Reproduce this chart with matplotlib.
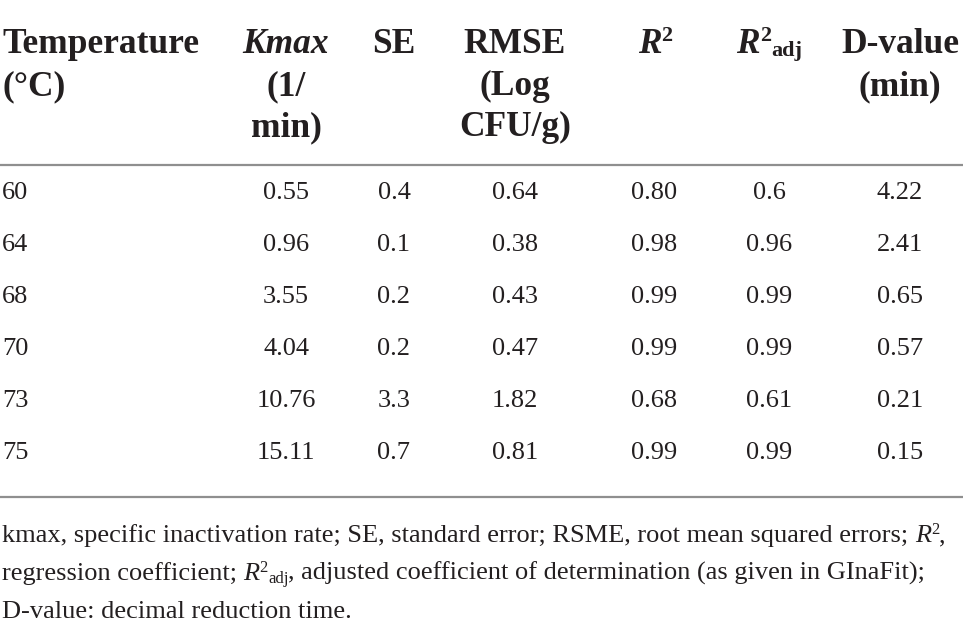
import matplotlib
matplotlib.use("Agg")
import matplotlib.pyplot as plt

# table data
temps = ["60", "64", "68", "70", "73", "75"]
kmax = ["0.55", "0.96", "3.55", "4.04", "10.76", "15.11"]
se = ["0.4", "0.1", "0.2", "0.2", "3.3", "0.7"]
rmse = ["0.64", "0.38", "0.43", "0.47", "1.82", "0.81"]
r2 = ["0.80", "0.98", "0.99", "0.99", "0.68", "0.99"]
r2adj = ["0.6", "0.96", "0.99", "0.99", "0.61", "0.99"]
dval = ["4.22", "2.41", "0.65", "0.57", "0.21", "0.15"]

FONT = "Liberation Serif"
W, H = 963, 632

fig = plt.figure(figsize=(W / 100, H / 100), dpi=100)
ax = fig.add_axes([0, 0, 1, 1])
ax.set_xlim(0, W)
ax.set_ylim(H, 0)
ax.axis("off")
renderer = fig.canvas.get_renderer()


def seq(x, y, pieces, align="left"):
    # pieces: (text, size, weight, style, dy)
    items = []
    total = 0
    for s, size, weight, style, dy in pieces:
        t = ax.text(0, y + dy, s, fontsize=size, fontweight=weight, fontstyle=style,
                    family=FONT, va="baseline", ha="left", color="#231f20")
        w = t.get_window_extent(renderer).width
        items.append((t, w))
        total += w
    if align == "center":
        x = x - total / 2
    for t, w in items:
        t.set_x(x)
        x += w
    return x


hsz = 25.5
ssz_h = 16
# header
hy = [53, 95, 136]
for i, s in enumerate(["Temperature", "(°C)"]):
    seq(2, hy[i], [(s, hsz, "bold", "normal", 0)])
seq(286, hy[0], [("Kmax", hsz, "bold", "italic", 0)], "center")
for i, s in enumerate(["(1/", "min)"]):
    seq(286, hy[i + 1], [(s, hsz, "bold", "normal", 0)], "center")
seq(394, hy[0], [("SE", hsz, "bold", "normal", 0)], "center")
for i, s in enumerate(["RMSE", "(Log", "CFU/g)"]):
    seq(515, hy[i], [(s, hsz, "bold", "normal", 0)], "center")
seq(655, hy[0], [("R", hsz, "bold", "italic", 0), ("2", ssz_h, "bold", "normal", -12)], "center")
seq(769, hy[0], [("R", hsz, "bold", "italic", 0), ("2", ssz_h, "bold", "normal", -12),
                 ("adj", ssz_h, "bold", "normal", 3)], "center")
for i, s in enumerate(["D-value", "(min)"]):
    seq(900, hy[i], [(s, hsz, "bold", "normal", 0)], "center")

# rules
ax.plot([0, W], [165, 165], color="#8f8f8f", lw=1.6, solid_capstyle="butt")
ax.plot([0, W], [497, 497], color="#8f8f8f", lw=1.6, solid_capstyle="butt")

# body
dsz = 19
centers = [286, 394, 515, 654, 769, 900]
cols = [kmax, se, rmse, r2, r2adj, dval]
for i, t in enumerate(temps):
    y = 199 + 52 * i
    seq(2, y, [(t, dsz, "normal", "normal", 0)])
    for cx, col in zip(centers, cols):
        seq(cx, y, [(col[i], dsz, "normal", "normal", 0)], "center")

# footnote
fsz = 19
ssz = 12
seq(2, 542, [("kmax, specific inactivation rate; SE, standard error; RSME, root mean squared errors; ",
              fsz, "normal", "normal", 0),
             ("R", fsz, "normal", "italic", 0), ("2", ssz, "normal", "normal", -8),
             (",", fsz, "normal", "normal", 0)])
seq(2, 580, [("regression coefficient; ", fsz, "normal", "normal", 0),
             ("R", fsz, "normal", "italic", 0), ("2", ssz, "normal", "normal", -8),
             ("adj", ssz, "normal", "normal", 3),
             (", adjusted coefficient of determination (as given in GInaFit);",
              fsz, "normal", "normal", 0)])
seq(2, 618, [("D-value: decimal reduction time.", fsz, "normal", "normal", 0)])

fig.savefig("out.png", dpi=100)
